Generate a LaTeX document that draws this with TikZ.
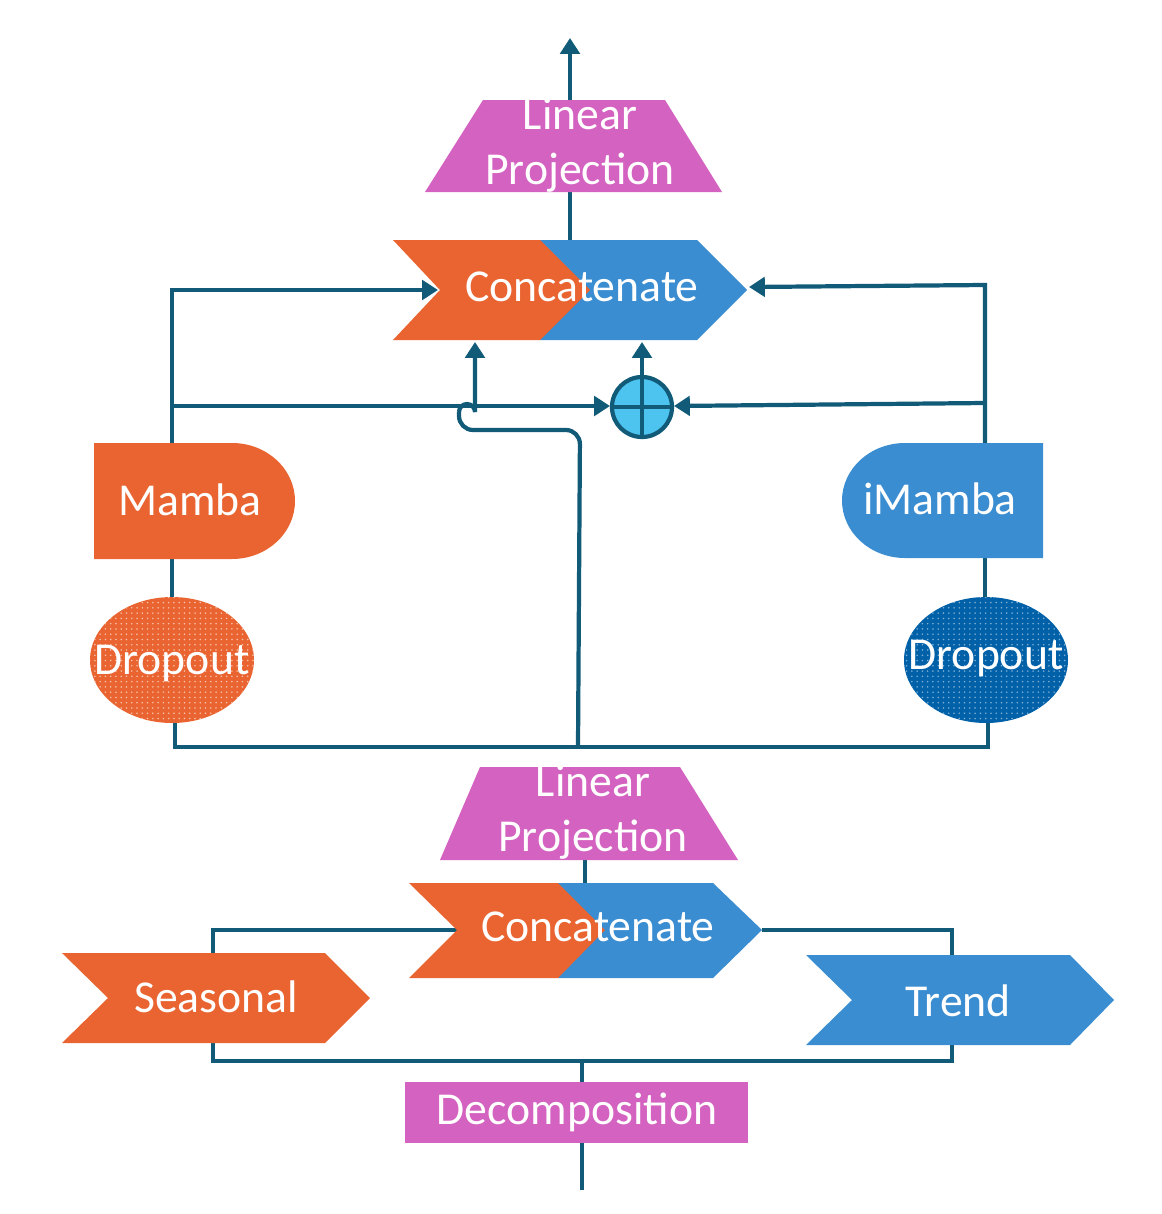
\documentclass[tikz,border=0pt]{standalone}
\usepackage{fontspec}
\setmainfont{Carlito}
\usetikzlibrary{arrows.meta,patterns}
\definecolor{orng}{HTML}{E96430}
\definecolor{blu}{HTML}{3A8DD1}
\definecolor{mag}{HTML}{D462C0}
\definecolor{wire}{HTML}{115A78}
\definecolor{dblu}{HTML}{0060A8}
\definecolor{plusfill}{HTML}{4DC3F0}
\tikzset{
  lbl/.style={text=white,font=\fontsize{26}{31}\selectfont,align=center},
  wirepath/.style={draw=wire,line width=2.4pt},
  arr/.style={wirepath,-{Triangle[length=9pt,width=11pt]}},
}
\begin{document}
\begin{tikzpicture}[x=0.02cm,y=-0.02cm]
            \useasboundingbox (0,0) rectangle (1162,1214);
            % wires
            \draw[arr] (570,100) -- (570,38);
            \draw[wirepath] (570,192) -- (570,240);
            \draw[arr] (172,443) -- (172,290) -- (438,290);
            \draw[arr] (172,406) -- (610,406);
            \draw[arr] (985,443) -- (985,285) -- (749,287);
            \draw[arr] (985,403) -- (674,406);
            \draw[arr] (642,377) -- (642,342);
            \draw[wirepath] (172,559) -- (172,600);
            \draw[wirepath] (985,558) -- (985,600);
            \draw[wirepath] (175,720) -- (175,747) -- (988,747) -- (988,720);
            \draw[wirepath,rounded corners=8pt] (578,747) -- (580,430) -- (459,430) -- (459,412);
            \draw[arr] (459,412) arc(180:360:8) -- (475,342);
            \draw[wirepath] (585,860) -- (585,883);
            \draw[wirepath] (457,930) -- (213,930) -- (213,955);
            \draw[wirepath] (762,930) -- (952,930) -- (952,957);
            \draw[wirepath] (213,1043) -- (213,1061) -- (952,1061) -- (952,1045);
            \draw[wirepath] (582,1061) -- (582,1082);
            \draw[wirepath] (582,1143) -- (582,1190);
            % top block
            \fill[mag] (483,100) -- (665,100) -- (722,192) -- (425,192) -- cycle;
            \node[lbl] (projtop) at (580,145) {Linear\\Projection};
            \fill[blu] (540,240) -- (697,240) -- (747,290) -- (697,340) -- (540,340) -- cycle;
            \fill[orng] (393,240) -- (540,240) -- (590,290) -- (540,340) -- (393,340) -- (440,290) -- cycle;
            \node[lbl] (cattop) at (582,287) {Concatenate};
            \filldraw[fill=plusfill,draw=wire,line width=2.4pt] (642,407) circle (30);
            \draw[wirepath] (612,407) -- (672,407) (642,377) -- (642,437);
            % branches
            \fill[orng] (94,443) -- (232,443) arc(-90:90:63 and 58) -- (94,559) -- cycle;
            \node[lbl] (mamba) at (190,500) {Mamba};
            \fill[blu] (1043,443) -- (905,443) arc(-90:-270:63 and 57.5) -- (1043,558) -- cycle;
            \node[lbl] (imamba) at (940,499) {iMamba};
            \fill[orng] (172,660) ellipse (82 and 63);
            \fill[pattern=dots,pattern color=white!60!orng] (172,660) ellipse (82 and 63);
            \node[lbl] (dropl) at (172,664) {Dropout};
            \fill[dblu] (986,660) ellipse (82 and 63);
            \fill[pattern=dots,pattern color=white!50!dblu] (986,660) ellipse (82 and 63);
            \node[lbl] (dropr) at (986,659) {Dropout};
            % bottom block
            \fill[mag] (480,767) -- (680,767) -- (738,860) -- (440,860) -- cycle;
            \node[lbl] (projbot) at (593,812) {Linear\\Projection};
            \fill[blu] (558,883) -- (713,883) -- (762,930) -- (713,978) -- (558,978) -- cycle;
            \fill[orng] (409,883) -- (558,883) -- (605,930) -- (558,978) -- (409,978) -- (457,930) -- cycle;
            \node[lbl] (catbot) at (598,927) {Concatenate};
            \fill[orng] (62,953) -- (325,953) -- (370,998) -- (325,1043) -- (62,1043) -- (108,998) -- cycle;
            \node[lbl] (seasonal) at (216,997) {Seasonal};
            \fill[blu] (806,955) -- (1070,955) -- (1114,1000) -- (1070,1045) -- (806,1045) -- (852,1000) -- cycle;
            \node[lbl] (trend) at (958,1001) {Trend};
            \fill[mag] (405,1082) rectangle (748,1143);
            \node[lbl] (decomp) at (577,1112) {Decomposition};
\end{tikzpicture}
\end{document}
